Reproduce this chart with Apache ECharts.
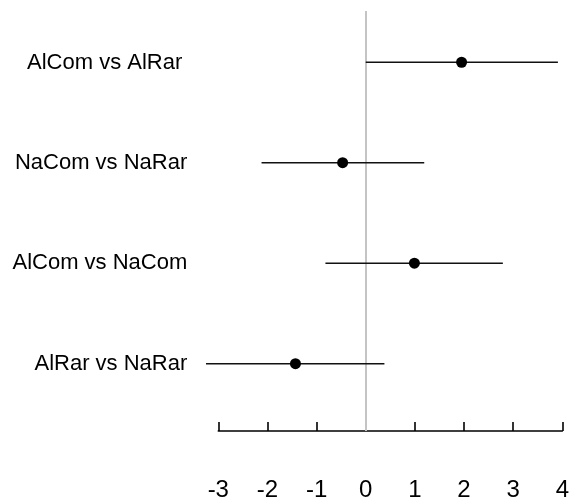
<!DOCTYPE html>
<html>
<head>
<meta charset="utf-8">
<script src="https://cdn.jsdelivr.net/npm/echarts@6/dist/echarts.min.js"></script>
<style>
html,body{margin:0;padding:0;background:#fff;}
#chart{width:572px;height:502px;}
</style>
</head>
<body>
<div id="chart"></div>
<script>
// Comparisons, top to bottom
const labels = ['AlCom vs AlRar', 'NaCom vs NaRar', 'AlCom vs NaCom', 'AlRar vs NaRar'];
const estimates = [1.95, -0.47, 0.99, -1.43];
const lower = [0.0, -2.12, -0.82, -3.25];
const upper = [3.91, 1.19, 2.79, 0.38];
const xTicks = [-3, -2, -1, 0, 1, 2, 3, 4];

const n = labels.length;
const rowPos = labels.map((_, i) => n - 1 - i);

const chart = echarts.init(document.getElementById('chart'), null, {renderer: 'canvas'});
const font = 'Liberation Sans, Arial, Helvetica, sans-serif';

chart.setOption({
  animation: false,
  backgroundColor: '#ffffff',
  grid: {left: 218.3, right: 8.7, top: 11, bottom: 70, containLabel: false},
  xAxis: {
    type: 'value',
    min: xTicks[0],
    max: xTicks[xTicks.length - 1],
    interval: 1,
    axisLine: {show: true, onZero: false, lineStyle: {color: '#000', width: 1.6}},
    axisTick: {show: true, inside: true, length: 9, lineStyle: {color: '#000', width: 1.6}},
    splitLine: {show: false},
    axisLabel: {fontSize: 24, color: '#000', fontFamily: font, margin: 47}
  },
  yAxis: {
    type: 'value',
    min: -0.67,
    max: 3.51,
    axisLine: {show: false},
    axisTick: {show: false},
    splitLine: {show: false},
    axisLabel: {
      customValues: rowPos,
      fontSize: 22,
      color: '#000',
      fontFamily: font,
      margin: 31,
      formatter: v => {
        const i = n - 1 - Math.round(v);
        return i === 0 ? '{s|' + labels[i] + '}' : labels[i];
      },
      rich: {
        s: {fontSize: 22, color: '#000', fontFamily: font, padding: [2, 5, 0, 0]}
      }
    }
  },
  series: [
    {
      type: 'custom',
      z: 3,
      silent: true,
      data: labels.map((_, i) => [lower[i], upper[i], rowPos[i]]),
      renderItem: (params, api) => {
        const p1 = api.coord([api.value(0), api.value(2)]);
        const p2 = api.coord([api.value(1), api.value(2)]);
        return {
          type: 'line',
          shape: {x1: p1[0], y1: p1[1], x2: p2[0], y2: p2[1]},
          style: {stroke: '#111', lineWidth: 1.6}
        };
      },
      markLine: {
        silent: true,
        symbol: ['none', 'none'],
        label: {show: false},
        lineStyle: {color: '#c4c4c4', type: 'solid', width: 2},
        data: [{xAxis: 0}],
        z: 1
      }
    },
    {
      type: 'scatter',
      z: 4,
      silent: true,
      symbol: 'circle',
      symbolSize: 11,
      itemStyle: {color: '#000', opacity: 1},
      data: labels.map((_, i) => [estimates[i], rowPos[i]])
    }
  ]
});
</script>
</body>
</html>
